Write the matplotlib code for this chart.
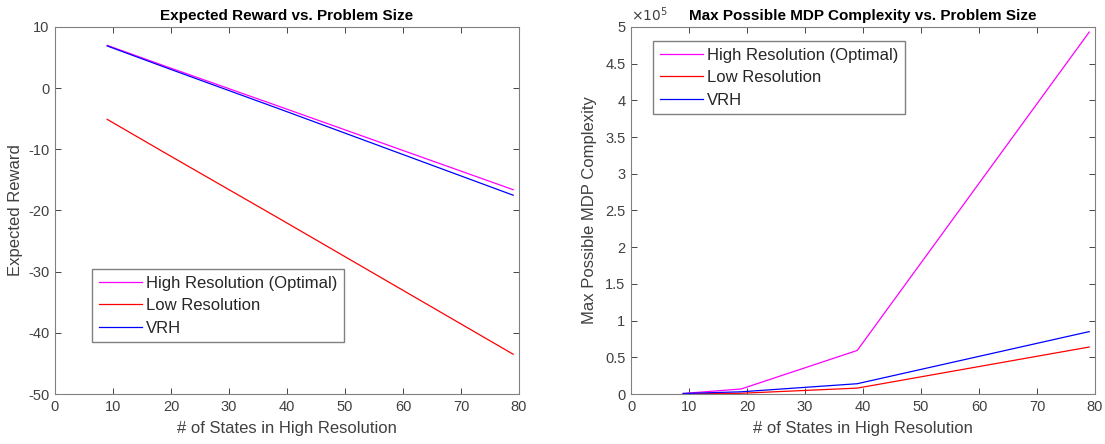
import numpy as np
import matplotlib
matplotlib.use('Agg')
import matplotlib.pyplot as plt
from matplotlib.ticker import FuncFormatter

plt.rcParams['font.family'] = ['Liberation Sans', 'DejaVu Sans']
plt.rcParams['axes.unicode_minus'] = False

states = [9, 19, 39, 79]

# expected reward
rew_high = [7.0, 3.6, -3.1, -16.6]
rew_low = [-5.1, -10.6, -21.5, -43.5]
rew_vrh = [6.9, 3.4, -3.5, -17.5]

# max possible MDP complexity
cx_high = [729, 6859, 59319, 493039]
cx_low = [125, 1000, 8000, 64000]
cx_vrh = [700, 3000, 14000, 85000]

labels = ['High Resolution (Optimal)', 'Low Resolution', 'VRH']
colors = ['#ff00ff', '#ff0000', '#0000ff']
gray = '#262626'
edge = '#808080'

fig = plt.figure(figsize=(11.05, 4.44), dpi=100)
ax1 = fig.add_axes([55/1105, 50/444, 464/1105, 367/444])
ax2 = fig.add_axes([631/1105, 50/444, 464/1105, 367/444])

def style(ax):
    for s in ax.spines.values():
        s.set_color(edge)
        s.set_linewidth(0.8)
    ax.tick_params(direction='in', top=True, right=True, length=4, width=0.6,
                   color=gray, labelcolor='#404040', labelsize=10.5, pad=4)

def legend(ax, x0, y0):
    leg = ax.legend(loc='upper left', bbox_to_anchor=(x0/464, 1-(y0-27)/367),
                    fontsize=12, fancybox=False, framealpha=1, edgecolor=edge,
                    handlelength=2.6, handletextpad=0.25, borderaxespad=0,
                    labelspacing=0.45, borderpad=0.4)
    leg.get_frame().set_linewidth(1.0)
    for t in leg.get_texts():
        t.set_color('#262626')

for ys, c, l in zip([rew_high, rew_low, rew_vrh], colors, labels):
    ax1.plot(states, ys, color=c, lw=0.9, label=l)
ax1.set_xlim(0, 80)
ax1.set_ylim(-50, 10)
ax1.set_xticks(range(0, 81, 10))
ax1.set_yticks(range(-50, 11, 10))
ax1.set_xlabel('# of States in High Resolution', fontsize=12, color='#404040', labelpad=5)
ax1.set_ylabel('Expected Reward', fontsize=12, color='#404040', labelpad=4)
ax1.set_title('Expected Reward vs. Problem Size', fontsize=11, fontweight='bold', pad=5)
style(ax1)
legend(ax1, 37, 269)

for ys, c, l in zip([cx_high, cx_low, cx_vrh], colors, labels):
    ax2.plot(states, ys, color=c, lw=0.9, label=l)
ax2.set_xlim(0, 80)
ax2.set_ylim(0, 5e5)
ax2.set_xticks(range(0, 81, 10))
ax2.set_yticks(np.arange(0, 5.01e5, 0.5e5))
ax2.yaxis.set_major_formatter(FuncFormatter(lambda v, p: '%g' % (v / 1e5)))
ax2.text(0, 1.008, r'$\times 10^{5}$', transform=ax2.transAxes, fontsize=10,
         color='#404040', ha='left', va='bottom')
ax2.set_xlabel('# of States in High Resolution', fontsize=12, color='#404040', labelpad=5)
ax2.set_ylabel('Max Possible MDP Complexity', fontsize=12, color='#404040', labelpad=6)
ax2.set_title('Max Possible MDP Complexity vs. Problem Size', fontsize=11,
              fontweight='bold', pad=5)
style(ax2)
legend(ax2, 22, 41)

plt.savefig('out.png', dpi=100)
